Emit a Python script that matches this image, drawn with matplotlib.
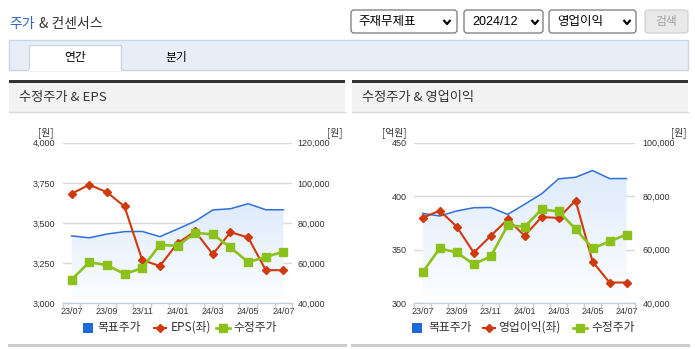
import numpy as np
import matplotlib
matplotlib.use("Agg")
import matplotlib.pyplot as plt
from matplotlib.patches import Rectangle, FancyBboxPatch
from matplotlib.lines import Line2D

# ---------------- data ----------------
months = ['23/07', '23/08', '23/09', '23/10', '23/11', '23/12', '24/01',
          '24/02', '24/03', '24/04', '24/05', '24/06', '24/07']
target_price = [73600, 72600, 74500, 75700, 75800, 73200, 77000,
                80900, 86500, 87100, 89600, 86600, 86600]
adj_price = [51700, 60500, 59000, 54600, 57500, 69100, 68600,
             75100, 74300, 67800, 60500, 63100, 65700]
eps = [3682, 3738, 3692, 3603, 3270, 3232, 3374,
       3448, 3305, 3443, 3410, 3206, 3206]
op_income = [380.0, 386.5, 371.6, 347.3, 362.9, 378.4, 363.1,
             380.6, 379.7, 396.0, 339.0, 319.4, 319.4]

eps_ticks = [3000, 3250, 3500, 3750, 4000]
eps_price_ticks = [40000, 60000, 80000, 100000, 120000]
op_ticks = [300, 350, 400, 450]
op_price_ticks = [40000, 60000, 80000, 100000]

legend_target = '목표주가'
legend_eps = 'EPS(좌)'
legend_op = '영업이익(좌)'
legend_adj = '수정주가'

# ---------------- style ----------------
KR = 'Noto Sans CJK KR'
NUM = 'Liberation Sans'
plt.rcParams['font.family'] = [KR, 'DejaVu Sans']

BLUE = '#2f6fd8'
RED = '#cf3a0c'
GREEN = '#8cc11c'
TXT = '#333333'
GRID = '#d9d9d9'
AXIS = '#c0d0e0'

W, H = 695, 349
fig = plt.figure(figsize=(W / 100, H / 100), dpi=100)
ui = fig.add_axes([0, 0, 1, 1], zorder=0)
ui.set_xlim(0, W)
ui.set_ylim(H, 0)
ui.axis('off')


def box(x0, y0, x1, y1, **kw):
    ui.add_patch(Rectangle((x0, y0), x1 - x0, y1 - y0, **kw))


def rbox(x0, y0, x1, y1, **kw):
    ui.add_patch(FancyBboxPatch((x0, y0), x1 - x0, y1 - y0,
                                boxstyle='round,pad=0,rounding_size=3', **kw))


def chevron(cx, cy):
    ui.add_line(Line2D([cx - 3.5, cx, cx + 3.5], [cy - 2, cy + 2, cy - 2],
                       color='black', lw=1.6, solid_capstyle='butt'))


# ---------------- top bar ----------------
ui.text(9, 24, '주가', color='#2a64cc', fontsize=10, va='center', ha='left')
ui.text(39, 24, '& 컨센서스', color=TXT, fontsize=10, va='center', ha='left')

rbox(351, 10, 457, 33, facecolor='white', edgecolor='#777777', lw=0.9)
ui.text(358, 22, '주재무제표', fontsize=9, va='center', color='black')
chevron(447, 22)
rbox(464, 10, 543, 33, facecolor='white', edgecolor='#777777', lw=0.9)
ui.text(472, 22, '2024/12', fontsize=9, va='center', color='black', family=NUM)
chevron(535, 22)
rbox(549, 10, 636, 33, facecolor='white', edgecolor='#777777', lw=0.9)
ui.text(557, 22, '영업이익', fontsize=9, va='center', color='black')
chevron(627, 22)
rbox(645, 10, 688, 33, facecolor='#e9e9e9', edgecolor='#d0d0d0', lw=0.9)
ui.text(666.5, 22, '검색', fontsize=8.5, va='center', ha='center', color='#a0a0a0')

# tabs
box(9, 40, 688, 70, facecolor='#e8eef8', edgecolor='#c9d5e6', lw=1)
box(29, 45, 121, 70, facecolor='white', edgecolor='#c9d5e6', lw=1)
ui.add_line(Line2D([29.6, 120.4], [70, 70], color='white', lw=1.5))
ui.text(75, 58, '연간', fontsize=8.5, ha='center', va='center', color='black')
ui.text(176, 58, '분기', fontsize=8.5, ha='center', va='center', color='black')

# ---------------- panels ----------------
for (px0, px1, title) in [(9, 345, '수정주가 & EPS'), (352, 688, '수정주가 & 영업이익')]:
    box(px0, 82.5, px1, 112, facecolor='#f2f2f2', edgecolor='none')
    box(px0, 80, px1, 82.5, facecolor='#333333', edgecolor='none')
    ui.add_line(Line2D([px0, px1], [112, 112], color='#d9d9d9', lw=1))
    ui.add_line(Line2D([px0, px1], [344.5, 344.5], color='#cccccc', lw=2.2))
    ui.text(px0 + 10, 98, title, fontsize=9.5, va='center', ha='left', color=TXT)


def fmt(v):
    return f'{v:,}'


def chart(x0, x1, left_vals, left_ticks, right_ticks, lpad, rpad):
    y0, y1 = 142.7, 303.3
    rect = [x0 / W, 1 - y1 / H, (x1 - x0) / W, (y1 - y0) / H]
    x = np.arange(len(months))

    ax = fig.add_axes(rect, zorder=2)
    ax.set_facecolor('none')
    ax.set_xlim(-0.5, len(months) - 0.5)
    ax.set_ylim(right_ticks[0], right_ticks[-1])
    # gradient area
    poly = ax.fill_between(x, target_price, right_ticks[0], facecolor='none',
                           edgecolor='none')
    top = np.array([222, 235, 251]) / 255
    bot = np.array([253, 254, 255]) / 255
    t = np.linspace(0, 1, 256)[:, None]
    grad = (top * (1 - t) + bot * t)[:, None, :]
    im = ax.imshow(grad, extent=[-0.5, len(months) - 0.5, right_ticks[0],
                                 max(target_price)],
                   aspect='auto', origin='upper', zorder=1)
    im.set_clip_path(poly.get_paths()[0], transform=ax.transData)
    ax.plot(x, target_price, color=BLUE, lw=1.1, zorder=2)
    ax.set_yticks(right_ticks)
    ax.set_yticklabels([fmt(v) for v in right_ticks], family=NUM,
                       fontsize=6.5, color=TXT)
    ax.yaxis.tick_right()
    ax.tick_params(axis='y', length=0, pad=rpad)
    ax.grid(axis='y', color=GRID, lw=1)
    ax.set_axisbelow(True)
    for s in ['top', 'left', 'right']:
        ax.spines[s].set_visible(False)
    ax.spines['bottom'].set_color(AXIS)
    ax.spines['bottom'].set_linewidth(1)
    ax.set_xticks(x[::2])
    ax.set_xticklabels(months[::2], family=NUM, fontsize=6.5, color=TXT)
    ax.set_xticks(np.arange(-0.5, len(months), 1), minor=True)
    ax.tick_params(axis='x', which='major', length=0, pad=3.0)
    ax.tick_params(axis='x', which='minor', length=3.6, color=AXIS, width=1)

    axl = fig.add_axes(rect, zorder=3, sharex=ax)
    axl.set_facecolor('none')
    axl.set_ylim(left_ticks[0], left_ticks[-1])
    axl.set_yticks(left_ticks)
    axl.set_yticklabels([fmt(v) for v in left_ticks], family=NUM,
                        fontsize=6.5, color=TXT)
    axl.tick_params(axis='y', length=0, pad=lpad)
    axl.tick_params(axis='x', which='both', bottom=False, labelbottom=False)
    for s in axl.spines.values():
        s.set_visible(False)
    axl.plot(x, left_vals, color=RED, lw=1.5, marker='D', ms=4.2,
             clip_on=False)

    axg = fig.add_axes(rect, zorder=4, sharex=ax)
    axg.set_facecolor('none')
    axg.set_ylim(right_ticks[0], right_ticks[-1])
    axg.axis('off')
    axg.plot(x, adj_price, color=GREEN, lw=1.9, marker='s', ms=5.2,
             clip_on=False)


chart(62.7, 292.3, eps, eps_ticks, eps_price_ticks, 5.5, 3.9)
chart(414.3, 635.0, op_income, op_ticks, op_price_ticks, 5.5, 5.5)

# unit labels
for (ux, lab) in [(46, '[원]'), (335, '[원]'), (394, '[억원]'), (679, '[원]')]:
    ui.text(ux, 133, lab, fontsize=7, ha='center', va='center', color=TXT)


# legends
def legend(bx, tx1, rx, tx2, gx, tx3, red_label):
    ly = 327.5
    box(bx, ly - 5, bx + 10, ly + 5, facecolor='#1f68dc', edgecolor='none')
    ui.text(tx1, ly, legend_target, fontsize=8.5, va='center', color=TXT)
    ui.add_line(Line2D([rx - 6, rx + 6], [ly, ly], color=RED, lw=1.5))
    ui.add_line(Line2D([rx], [ly], color=RED, marker='D', ms=4.2))
    ui.text(tx2, ly, red_label, fontsize=8.5, va='center', color=TXT)
    ui.add_line(Line2D([gx - 7, gx + 7], [ly, ly], color=GREEN, lw=1.9))
    ui.add_line(Line2D([gx], [ly], color=GREEN, marker='s', ms=5.2))
    ui.text(tx3, ly, legend_adj, fontsize=8.5, va='center', color=TXT)


legend(82.7, 97.5, 160, 171, 223, 233, legend_eps)
legend(411.5, 428, 489, 498, 580, 591, legend_op)

fig.savefig('out.png', dpi=100)
